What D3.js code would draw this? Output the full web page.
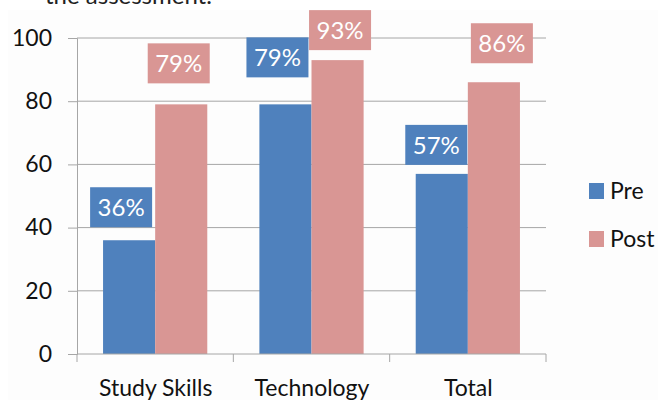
<!DOCTYPE html>
<html><head><meta charset="utf-8">
<script src="https://cdn.jsdelivr.net/npm/d3@7"></script>
<style>body{margin:0;background:#fff}svg{display:block}</style>
</head><body>
<svg id="c" width="658" height="400"></svg>
<script>
const categories = ["Study Skills", "Technology", "Total"];
const seriesNames = ["Pre", "Post"];
const preValues = [36, 79, 57];
const postValues = [79, 93, 86];
const yTicks = [0, 20, 40, 60, 80, 100];
// label box placement nudges (layout only): [dx, gapAboveBar] per series per category
const labelNudge = {
  Pre:  [[-8, 13], [-8, 27], [-5.5, 9]],
  Post: [[-2.5, 21], [2.5, 10], [8, 19]]
};
const colors = {Pre: "#4f81bd", Post: "#d99694"};
const font = "Lato, 'Open Sans', sans-serif";

const svg = d3.select("#c");
svg.append("rect").attr("x", 8).attr("y", 10).attr("width", 650).attr("height", 390).attr("fill", "#fdfdfd");
svg.append("text").attr("x", 45).attr("y", 4).attr("font-family", font).attr("font-size", 24)
  .attr("fill", "#222").text("the assessment.");

const x0 = d3.scaleBand().domain(categories).range([77, 546]).padding(0);
const x1 = d3.scaleBand().domain(seriesNames).range([0, x0.bandwidth()]).paddingInner(0).paddingOuter(0.5);
const y = d3.scaleLinear().domain([0, 100]).range([354, 38]);

// gridlines
svg.append("g").selectAll("line").data(yTicks.filter(t => t > 0)).join("line")
  .attr("x1", 77).attr("x2", 546).attr("y1", d => y(d)).attr("y2", d => y(d))
  .attr("stroke", "#a6a6a6").attr("stroke-width", 1);

// y axis
const yAxis = svg.append("g").attr("transform", "translate(77,0)")
  .call(d3.axisLeft(y).tickValues(yTicks).tickSize(9).tickPadding(16));
yAxis.select(".domain").attr("stroke", "#a6a6a6");
yAxis.selectAll(".tick line").attr("stroke", "#a6a6a6");
yAxis.selectAll("text").attr("font-family", font).attr("font-size", 23).attr("fill", "#111");

const data = categories.map((c, i) => ({cat: c, Pre: preValues[i], Post: postValues[i], i}));

// bars
const groups = svg.append("g").selectAll("g").data(data).join("g")
  .attr("transform", d => `translate(${x0(d.cat)},0)`);
groups.selectAll("rect").data(d => seriesNames.map(s => ({s, v: d[s], i: d.i}))).join("rect")
  .attr("x", d => x1(d.s)).attr("width", x1.bandwidth())
  .attr("y", d => y(d.v)).attr("height", d => y(0) - y(d.v))
  .attr("fill", d => colors[d.s]);

// x axis
const xAxisG = svg.append("g").attr("transform", "translate(0,354)");
xAxisG.append("line").attr("x1", 77).attr("x2", 546).attr("y1", 0).attr("y2", 0).attr("stroke", "#a6a6a6");
const bounds = [77].concat(categories.map(c => x0(c) + x0.bandwidth()));
xAxisG.selectAll("line.t").data(bounds).join("line").attr("class", "t")
  .attr("x1", d => d).attr("x2", d => d).attr("y1", 0).attr("y2", 8).attr("stroke", "#a6a6a6");
xAxisG.selectAll("text").data(categories).join("text")
  .attr("x", d => x0(d) + x0.bandwidth() / 2 + 0.5).attr("y", 42)
  .attr("text-anchor", "middle").attr("font-family", font).attr("font-size", 23).attr("fill", "#111")
  .text(d => d);

// data labels
const bw = 62, bh = 40;
groups.selectAll("g.lbl").data(d => seriesNames.map(s => ({s, v: d[s], i: d.i}))).join("g")
  .attr("class", "lbl")
  .each(function(d) {
    const [dx, gap] = labelNudge[d.s][d.i];
    const cx = x1(d.s) + x1.bandwidth() / 2 + dx;
    const bottom = y(d.v) - gap;
    const g = d3.select(this);
    g.append("rect").attr("x", cx - bw / 2).attr("y", bottom - bh).attr("width", bw).attr("height", bh)
      .attr("fill", colors[d.s]);
    g.append("text").attr("x", cx).attr("y", bottom - bh / 2 + 9)
      .attr("text-anchor", "middle").attr("font-family", font).attr("font-size", 24).attr("fill", "#fff")
      .text(d.v + "%");
  });

// legend
const legend = svg.append("g").selectAll("g").data(seriesNames).join("g")
  .attr("transform", (d, i) => `translate(589,${183 + i * 48})`);
legend.append("rect").attr("width", 15).attr("height", 16).attr("fill", d => colors[d]);
legend.append("text").attr("x", 21).attr("y", 16).attr("font-family", font).attr("font-size", 23)
  .attr("fill", "#111").text(d => d);
</script>
</body></html>
